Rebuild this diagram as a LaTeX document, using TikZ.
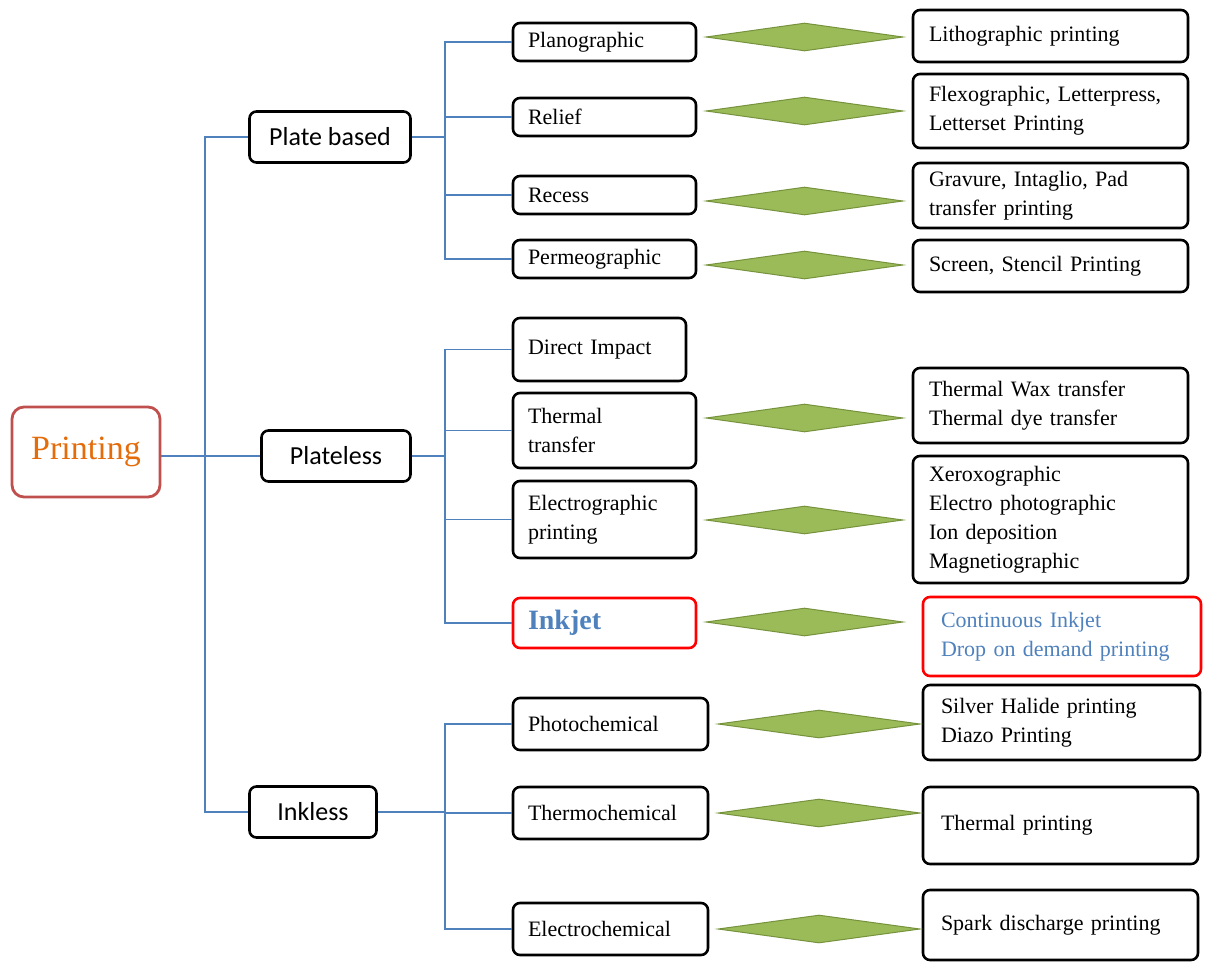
\documentclass[tikz,border=0pt]{standalone}
\usepackage{fontspec}
\setmainfont{Liberation Serif}
\newfontfamily\calibri{Carlito}
\usetikzlibrary{shapes.geometric}
\definecolor{linkblue}{HTML}{4F81BD}
\definecolor{rootred}{HTML}{C0504D}
\definecolor{rootorange}{HTML}{E46C0A}
\definecolor{gemgreen}{HTML}{9BBB59}
\definecolor{gemdark}{HTML}{76923C}
\begin{document}
\begin{tikzpicture}[x=1pt, y=-1pt,
  every node/.style = {align=left, font=\fontsize{22}{29}\selectfont},
  box/.style = {draw, rounded corners=7pt, line width=2.6pt,
    inner xsep=15pt, inner ysep=0pt},
  root/.style = {draw=rootred, line width=2.8pt, rounded corners=12pt,
    minimum width=148pt, minimum height=90pt, align=center,
    text=rootorange, font=\fontsize{34}{40}\selectfont},
  grp/.style = {box, align=center, inner xsep=0pt, minimum height=51pt,
    font=\calibri\fontsize{26}{30}\selectfont},
  kind/.style = {box, text width=153pt, minimum height=#1},
  use/.style = {box, inner xsep=16pt, text width=243pt, minimum height=#1},
  hot/.style = {draw=red, text=linkblue},
  gem/.style = {diamond, draw=gemdark, line width=1pt, fill=gemgreen,
    inner sep=0pt, minimum width=197pt, minimum height=28pt},
  link/.style = {draw=linkblue, line width=1.4pt}
  ]
  \useasboundingbox (0,0) rectangle (1205,964);

  \node[root] (printing) at (86,452) {Printing};

  \node[grp, minimum width=161pt] (plate) at (330,137) {Plate based};
  \node[grp, minimum width=149pt] (plateless) at (336,456) {Plateless};
  \node[grp, minimum width=127pt] (inkless) at (313,812) {Inkless};

  \node[kind=38pt] (plano) at (604.5,42) {Planographic};
  \node[kind=38pt] (relief) at (604.5,117) {Relief};
  \node[kind=38pt] (recess) at (604.5,195) {Recess};
  \node[kind=38pt] (permeo) at (604.5,259) {Permeographic};
  \node[kind=63pt, text width=143pt] (direct) at (599.5,349.5) {Direct Impact};
  \node[kind=75pt] (thermal) at (604.5,430.5) {Thermal\\transfer};
  \node[kind=77pt] (electro) at (604.5,519.5) {Electrographic\\printing};
  \node[kind=50pt, hot, font=\bfseries\fontsize{28}{32}\selectfont] (inkjet) at (604.5,623) {Inkjet};
  \node[kind=52pt, text width=165pt] (photo) at (610.5,724) {Photochemical};
  \node[kind=52pt, text width=165pt] (thermo) at (610.5,813) {Thermochemical};
  \node[kind=52pt, text width=165pt] (echem) at (610.5,929) {Electrochemical};

  \node[use=52pt] (litho) at (1050.5,36) {Lithographic printing};
  \node[use=74pt] (flexo) at (1050.5,111) {Flexographic, Letterpress,\\Letterset Printing};
  \node[use=65pt] (gravure) at (1050.5,195.5) {Gravure, Intaglio, Pad\\transfer printing};
  \node[use=52pt] (screen) at (1050.5,266) {Screen, Stencil Printing};
  \node[use=75pt] (wax) at (1050.5,405.5) {Thermal Wax transfer\\Thermal dye transfer};
  \node[use=127pt] (xero) at (1050.5,519.5) {Xeroxographic\\Electro photographic\\Ion deposition\\Magnetiographic};
  \node[use=79pt, hot, inner xsep=18pt, text width=242pt] (cij) at (1062,636.5) {Continuous Inkjet\\Drop on demand printing};
  \node[use=75pt, inner xsep=18pt, text width=241pt] (silver) at (1061.5,722.5) {Silver Halide printing\\Diazo Printing};
  \node[use=77pt, inner xsep=18pt, text width=239pt] (tprint) at (1060.5,825.5) {Thermal printing};
  \node[use=70pt, inner xsep=18pt, text width=239pt] (spark) at (1060.5,925) {Spark discharge printing};

  \node[gem] (g1) at (804.5,37) {};
  \node[gem] (g2) at (804.5,111) {};
  \node[gem] (g3) at (804.5,201) {};
  \node[gem] (g4) at (804.5,265) {};
  \node[gem] (g5) at (804.5,418) {};
  \node[gem] (g6) at (804.5,520) {};
  \node[gem] (g7) at (804.5,622) {};
  \node[gem, minimum width=202pt] (g8) at (819,724) {};
  \node[gem, minimum width=202pt] (g9) at (819,813) {};
  \node[gem, minimum width=202pt] (g10) at (819,929) {};

  \coordinate (trunk) at (205,0);
  \coordinate (bus) at (445,0);
  \draw[link] (printing.east |- plateless.west) -- (plateless.west);
  \draw[link] (plate.west) -| (trunk |- inkless.west) -- (inkless.west);
  \foreach \k in {plano,relief,recess,permeo}
    \draw[link] (plate.east) -| (bus |- \k.west) -- (\k.west);
  \foreach \k in {direct,thermal,electro,inkjet}
    \draw[link] (plateless.east) -| (bus |- \k.west) -- (\k.west);
  \foreach \k in {photo,thermo,echem}
    \draw[link] (inkless.east) -| (bus |- \k.west) -- (\k.west);
\end{tikzpicture}
\end{document}
